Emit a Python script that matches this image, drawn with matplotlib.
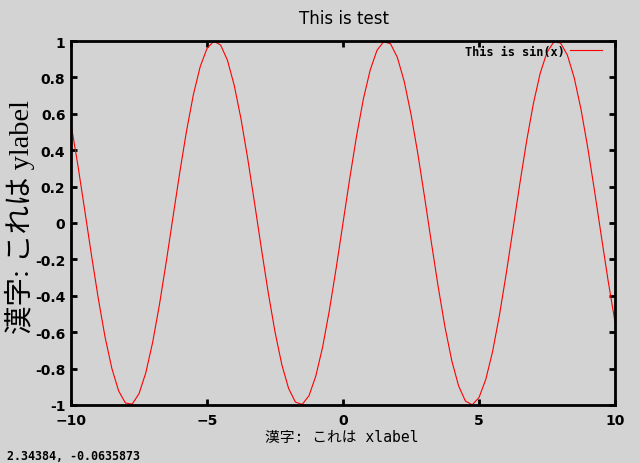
import matplotlib
matplotlib.use("Agg")
import matplotlib.pyplot as plt

x_values = [-10.0, -9.75, -9.5, -9.25, -9.0, -8.75, -8.5, -8.25, -8.0, -7.75, -7.5, -7.25, -7.0,
            -6.75, -6.5, -6.25, -6.0, -5.75, -5.5, -5.25, -5.0, -4.75, -4.5, -4.25, -4.0,
            -3.75, -3.5, -3.25, -3.0, -2.75, -2.5, -2.25, -2.0, -1.75, -1.5, -1.25, -1.0,
            -0.75, -0.5, -0.25, 0.0, 0.25, 0.5, 0.75, 1.0, 1.25, 1.5, 1.75, 2.0, 2.25, 2.5,
            2.75, 3.0, 3.25, 3.5, 3.75, 4.0, 4.25, 4.5, 4.75, 5.0, 5.25, 5.5, 5.75, 6.0,
            6.25, 6.5, 6.75, 7.0, 7.25, 7.5, 7.75, 8.0, 8.25, 8.5, 8.75, 9.0, 9.25, 9.5,
            9.75, 10.0]
y_values = [0.544, 0.320, 0.075, -0.174, -0.412, -0.625, -0.798, -0.922, -0.989, -0.995, -0.938,
            -0.823, -0.657, -0.450, -0.215, 0.033, 0.279, 0.508, 0.706, 0.859, 0.959, 0.999,
            0.978, 0.895, 0.757, 0.572, 0.351, 0.108, -0.141, -0.382, -0.598, -0.778, -0.909,
            -0.984, -0.997, -0.949, -0.841, -0.682, -0.479, -0.247, 0.0, 0.247, 0.479, 0.682,
            0.841, 0.949, 0.997, 0.984, 0.909, 0.778, 0.598, 0.382, 0.141, -0.108, -0.351,
            -0.572, -0.757, -0.895, -0.978, -0.999, -0.959, -0.859, -0.706, -0.508, -0.279,
            -0.033, 0.215, 0.450, 0.657, 0.823, 0.938, 0.995, 0.989, 0.922, 0.798, 0.625,
            0.412, 0.174, -0.075, -0.320, -0.544]
x_ticks = [-10, -5, 0, 5, 10]
y_ticks = [-1, -0.8, -0.6, -0.4, -0.2, 0, 0.2, 0.4, 0.6, 0.8, 1]
y_tick_labels = ["-1", "-0.8", "-0.6", "-0.4", "-0.2", "0", "0.2", "0.4", "0.6", "0.8", "1"]
title = "This is test"
xlabel = "漢字: これは xlabel"
ylabel = "漢字: これは ylabel"
series_label = "This is sin(x)"
status_text = "2.34384, -0.0635873"

bg = "#d3d3d3"
fig = plt.figure(figsize=(6.4, 4.64), dpi=100, facecolor=bg)
ax = fig.add_axes([71/640, 58/464, 544/640, 364/464])
ax.set_facecolor(bg)

ax.plot(x_values, y_values, color="red", linewidth=0.8, label=series_label)
ax.set_xlim(-10, 10)
ax.set_ylim(-1, 1)
ax.set_xticks(x_ticks)
ax.set_yticks(y_ticks)
ax.set_yticklabels(y_tick_labels)

for sp in ax.spines.values():
    sp.set_linewidth(2)
    sp.set_color("black")
ax.tick_params(direction="in", length=4, width=2, top=True, right=True,
               labelsize=10)
ax.tick_params(axis="x", pad=5.5)
ax.tick_params(axis="y", pad=4)
for lab in ax.get_xticklabels() + ax.get_yticklabels():
    lab.set_fontweight("bold")
    lab.set_family("DejaVu Sans")

fig.text(344/640, 1 - 19/464, title, ha="center", va="center", fontsize=12,
         family="DejaVu Sans")
fig.text(342/640, 1 - 438/464, xlabel, ha="center", va="center", fontsize=10.6,
         family=["DejaVu Sans Mono", "Noto Sans CJK JP"])
fig.text(20/640, 1 - 217/464, ylabel, ha="center", va="center", fontsize=20.5,
         rotation=90, family=["Liberation Serif", "Noto Sans CJK JP"])
fig.text(7/640, 1 - 457/464, status_text, ha="left", va="center", fontsize=8.4,
         family="DejaVu Sans Mono", fontweight="bold")

leg = ax.legend(loc="upper right", bbox_to_anchor=(0.983, 1.0), frameon=False,
                markerfirst=False, handlelength=2.7, borderaxespad=0.0,
                borderpad=0.3, handletextpad=0.4,
                prop={"family": "DejaVu Sans Mono", "size": 8.6, "weight": "bold"})

fig.savefig("out.png", dpi=100, facecolor=bg)
